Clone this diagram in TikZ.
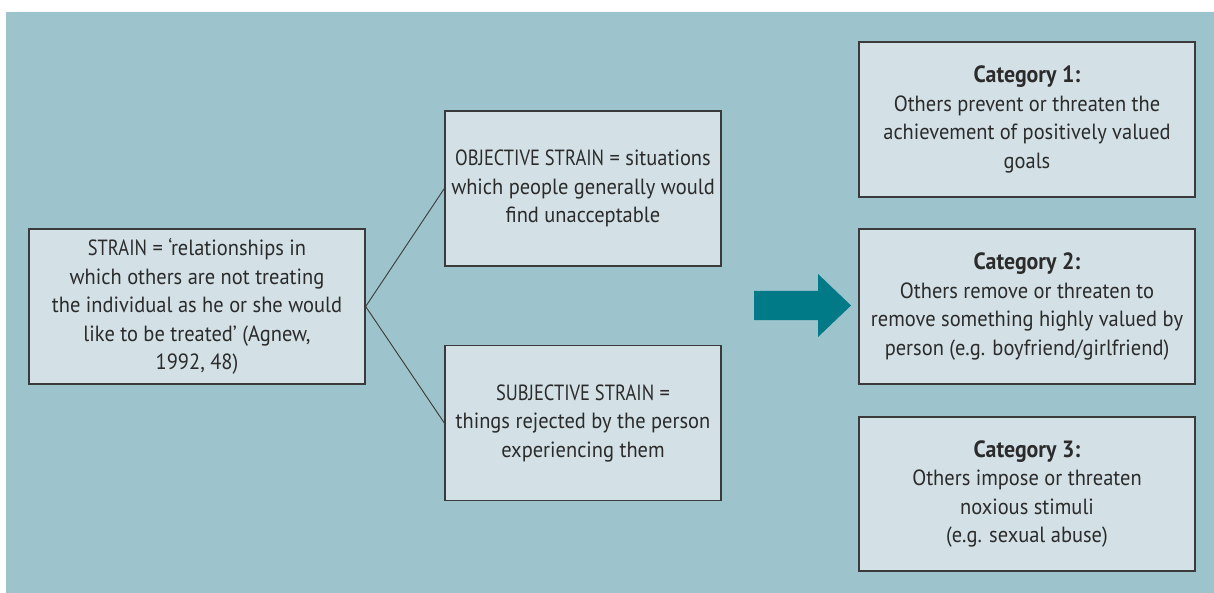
\documentclass[tikz,border=0pt]{standalone}
\usepackage{fontspec}
\setmainfont{PT Sans}[FakeStretch=0.93]
\definecolor{panel}{HTML}{9DC3CC}
\definecolor{boxfill}{HTML}{D3E1E6}
\definecolor{boxline}{HTML}{3A3A3A}
\definecolor{ink}{HTML}{2B2B2B}
\definecolor{arrowteal}{HTML}{007A87}
\tikzset{
  card/.style={draw=boxline, line width=1.3pt, fill=boxfill, align=center,
    text=ink, inner sep=0pt, font=\fontsize{22}{28.5}\selectfont},
  link/.style={draw=boxline, line width=0.9pt}
}
\newcommand{\cattitle}[1]{{\fontsize{23.5}{28.5}\selectfont\bfseries #1}}
% capitals set a little narrower
\newcommand{\narrowcaps}[1]{{\addfontfeature{FakeStretch=0.84}#1}}
\begin{document}
\begin{tikzpicture}[x=1pt,y=-1pt]
  \useasboundingbox (0,0) rectangle (1214,593);
  \fill[white] (0,0) rectangle (1214,593);
  \fill[panel] (6,12) rectangle (1214,593);

  % definition of strain
  \node[card, minimum width=336pt, minimum height=155pt] (strain) at (197,306.5)
    {\narrowcaps{STRAIN} = ‘relationships in\\which others are not treating\\the individual as he or she would\\like to be treated’ (Agnew,\\1992, 48)};

  % the two kinds of strain
  \node[card, minimum width=276pt, minimum height=155pt] (obj) at (583,188.5)
    {\narrowcaps{OBJECTIVE STRAIN} = situations\\which people generally would\\find unacceptable};
  \node[card, minimum width=276pt, minimum height=155pt] (subj) at (583,423)
    {\narrowcaps{SUBJECTIVE STRAIN} =\\things rejected by the person\\experiencing them};

  \draw[link] (strain.east) -- (obj.west);
  \draw[link] (strain.east) -- (subj.west);

  % block arrow towards the categories
  \fill[arrowteal] (754,291) -- (818,291) -- (818,274) -- (851,305.5)
    -- (818,337) -- (818,320) -- (754,320) -- cycle;

  % categories of strain
  \node[card, minimum width=336pt, minimum height=155pt] (cat1) at (1027,119.5)
    {\cattitle{Category 1:}\\Others prevent or threaten the\\achievement of positively valued\\goals};
  \node[card, minimum width=336pt, minimum height=155pt] (cat2) at (1027,306.5)
    {\cattitle{Category 2:}\\Others remove or threaten to\\remove something highly valued by\\person (e.g. boyfriend/girlfriend)};
  \node[card, minimum width=336pt, minimum height=154pt] (cat3) at (1027,494)
    {\cattitle{Category 3:}\\Others impose or threaten\\noxious stimuli\\(e.g. sexual abuse)};
\end{tikzpicture}
\end{document}
